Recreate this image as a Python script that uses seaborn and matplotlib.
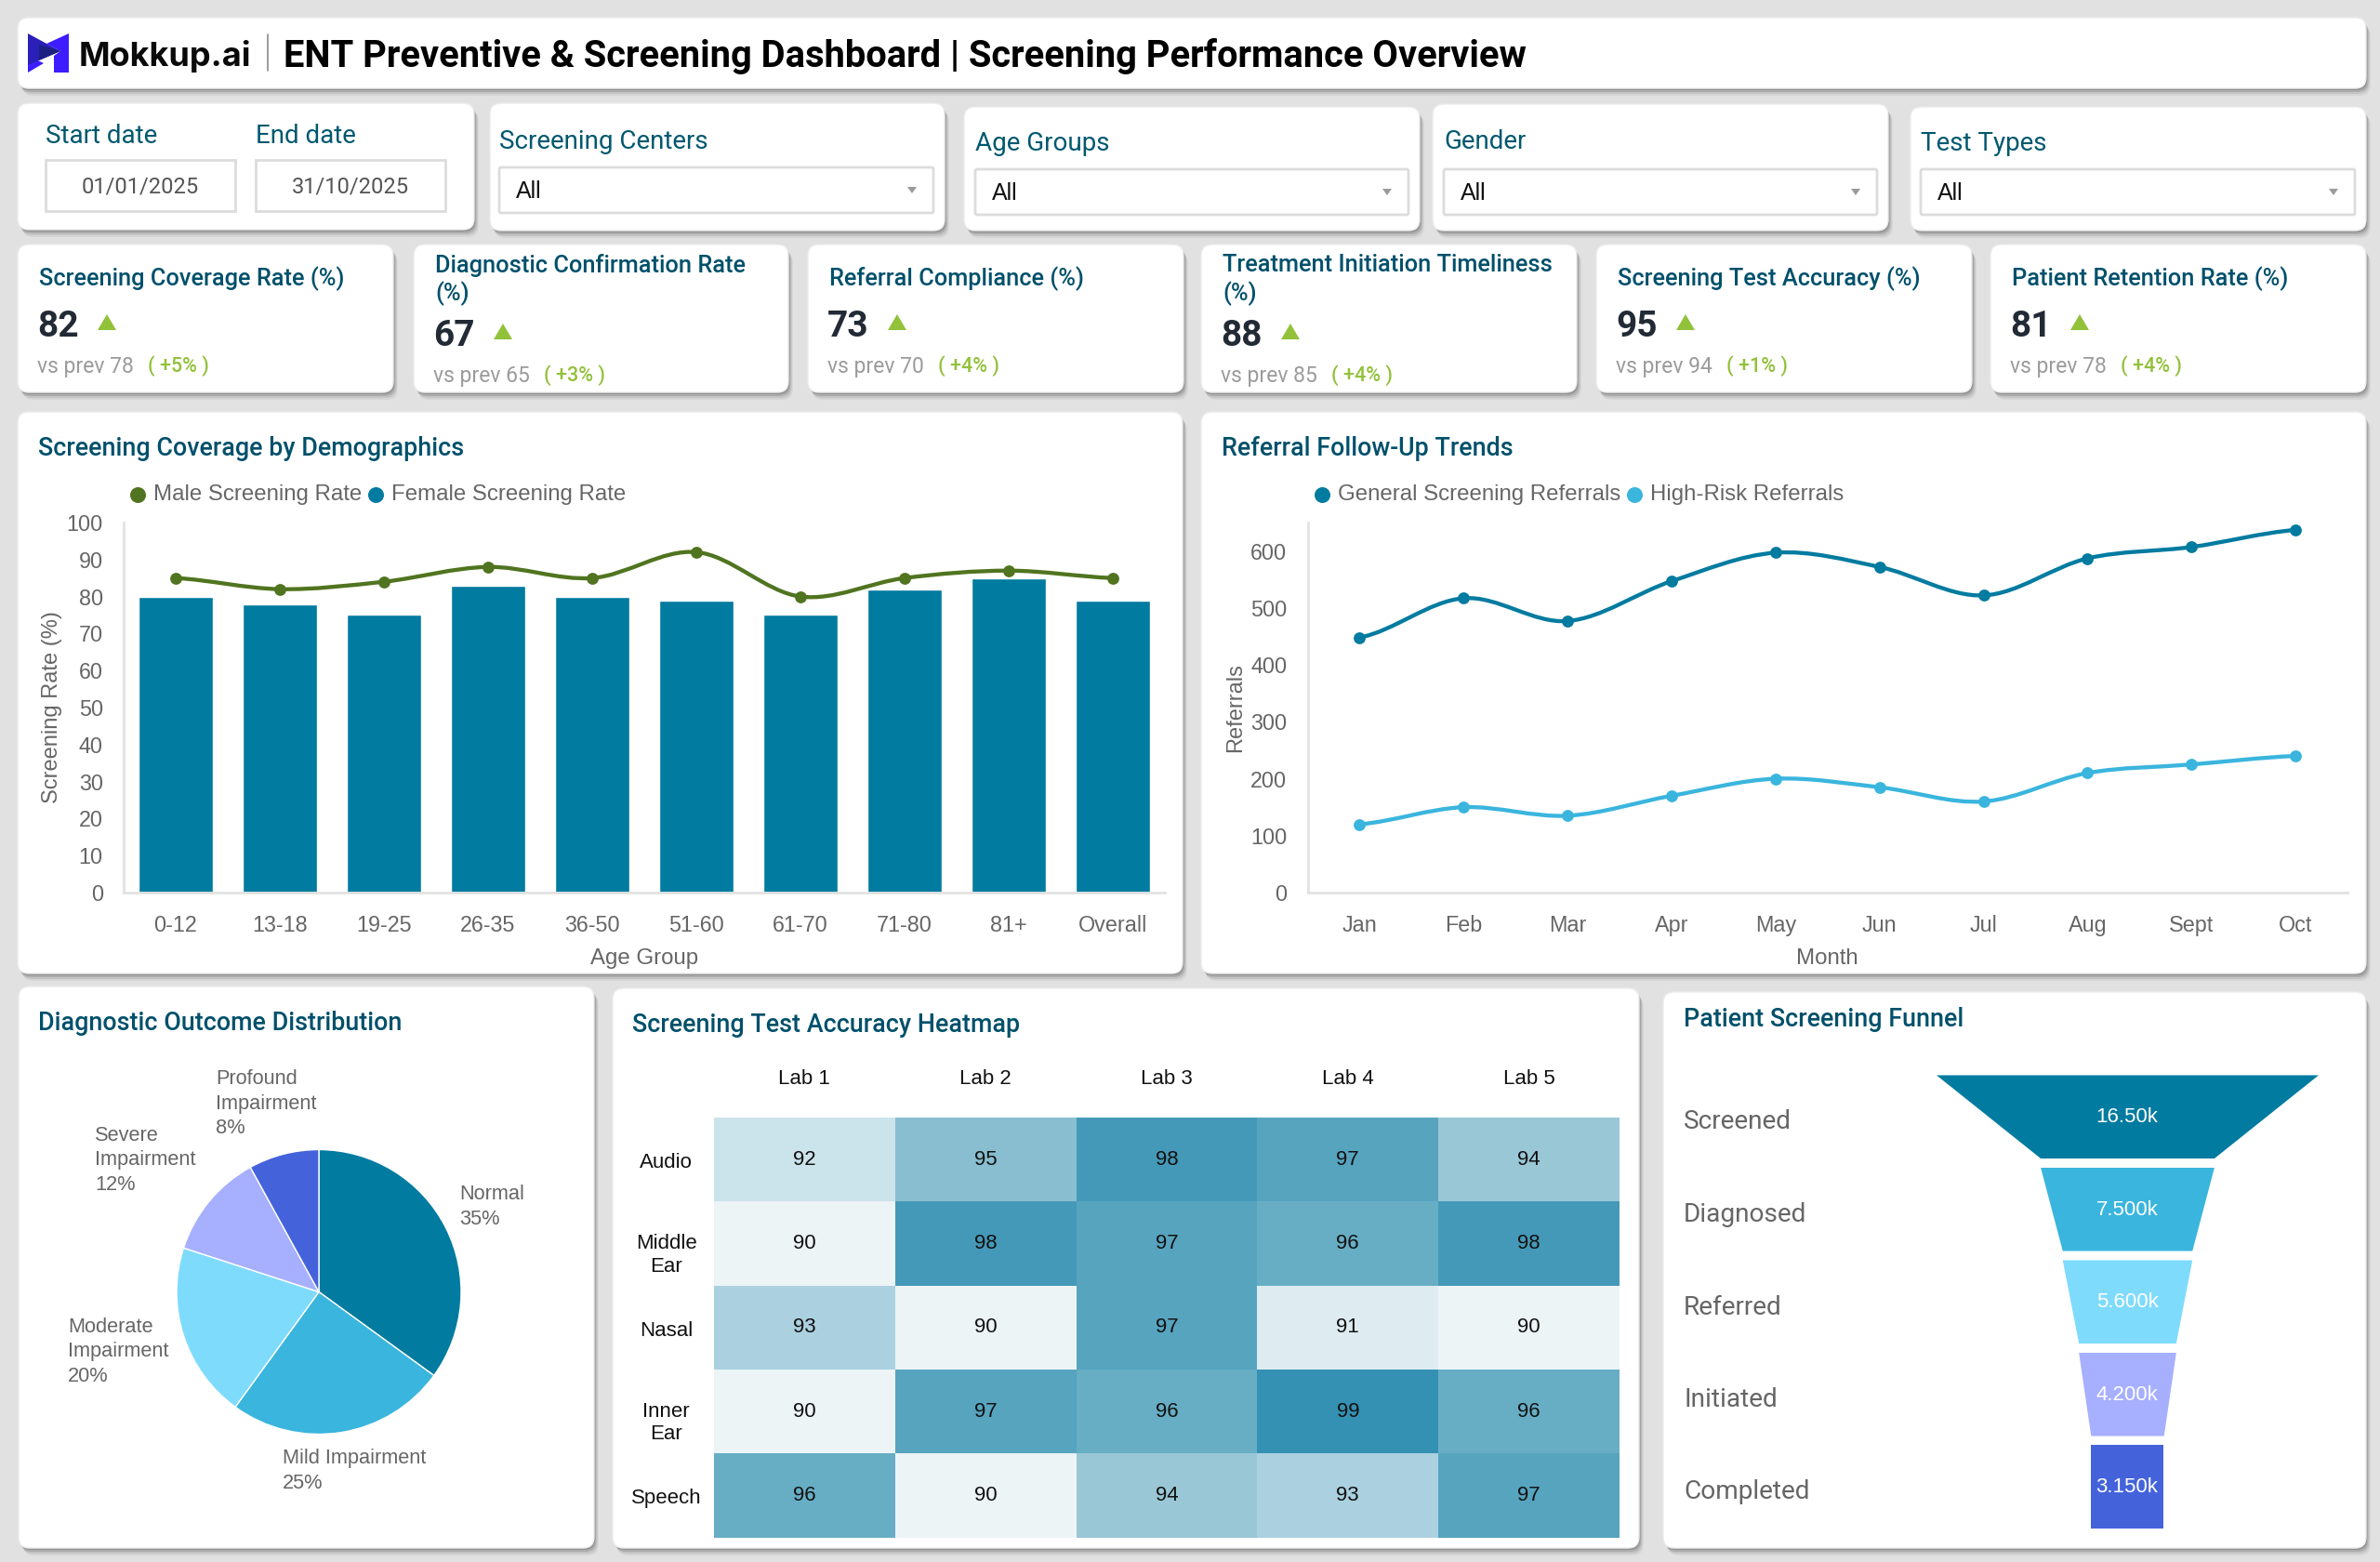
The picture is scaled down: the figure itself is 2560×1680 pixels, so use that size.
import numpy as np
import pandas as pd
import matplotlib
matplotlib.use("Agg")
import matplotlib.pyplot as plt
import seaborn as sns
from matplotlib.colors import LinearSegmentedColormap
from matplotlib.patches import FancyBboxPatch, PathPatch, Polygon, Rectangle
from matplotlib.path import Path
from matplotlib.transforms import ScaledTranslation

# data
age_groups = ["0-12", "13-18", "19-25", "26-35", "36-50", "51-60", "61-70", "71-80", "81+", "Overall"]
female_rate = [80, 78, 75, 83, 80, 79, 75, 82, 85, 79]
male_rate = [85, 82, 84, 88, 85, 92, 80, 85, 87, 85]

months = ["Jan", "Feb", "Mar", "Apr", "May", "Jun", "Jul", "Aug", "Sept", "Oct"]
general_referrals = [448, 517, 477, 547, 597, 572, 522, 587, 607, 637]
high_risk_referrals = [120, 150, 135, 170, 200, 185, 160, 210, 225, 240]

outcome_labels = ["Normal", "Mild Impairment", "Moderate\nImpairment", "Severe\nImpairment", "Profound\nImpairment"]
outcome_values = [35, 25, 20, 12, 8]

labs = ["Lab 1", "Lab 2", "Lab 3", "Lab 4", "Lab 5"]
tests = ["Audio", "Middle\nEar", "Nasal", "Inner\nEar", "Speech"]
accuracy = [[92, 95, 98, 97, 94],
            [90, 98, 97, 96, 98],
            [93, 90, 97, 91, 90],
            [90, 97, 96, 99, 96],
            [96, 90, 94, 93, 97]]

funnel_stages = ["Screened", "Diagnosed", "Referred", "Initiated", "Completed"]
funnel_values = [16500, 7500, 5600, 4200, 3150]
funnel_text = ["16.50k", "7.500k", "5.600k", "4.200k", "3.150k"]

kpi_titles = ["Screening Coverage Rate (%)", "Diagnostic Confirmation Rate\n(%)", "Referral Compliance (%)",
              "Treatment Initiation Timeliness\n(%)", "Screening Test Accuracy (%)", "Patient Retention Rate (%)"]
kpi_values = [82, 67, 73, 88, 95, 81]
kpi_prev = [78, 65, 70, 85, 94, 78]
kpi_change = ["+5%", "+3%", "+4%", "+4%", "+1%", "+4%"]

filter_titles = ["Screening Centers", "Age Groups", "Gender", "Test Types"]

# colours
BG = "#e1e1e1"
TEAL = "#027ba0"
SKY = "#3ab5de"
PALE = "#7fdbfc"
LILAC = "#a7afff"
INDIGO = "#4463db"
OLIVE = "#50741f"
TITLE = "#00506b"
GREY = "#666666"
AXIS = "#e2e2e2"
GREEN = "#92c13a"
BODY = "Liberation Sans"
HEAD = "Roboto"

sns.set_theme(style="white")
plt.rcParams["font.family"] = [BODY, "DejaVu Sans"]

fig = plt.figure(figsize=(25.6, 16.8), dpi=100, facecolor=BG)

# overlay in pixel coordinates for the cards and text
bg = fig.add_axes([0, 0, 1, 1], zorder=0)
bg.set_xlim(0, 2560)
bg.set_ylim(1680, 0)
bg.axis("off")


def card(x0, y0, x1, y1):
    for off, a in ((8, 0.05), (6, 0.08), (4, 0.12), (2, 0.16)):
        bg.add_patch(FancyBboxPatch((x0 + 12 + off * 0.6, y0 + 12 + off), x1 - x0 - 24, y1 - y0 - 24,
                                    boxstyle="round,pad=12", fc="black", ec="none", alpha=a))
    bg.add_patch(FancyBboxPatch((x0 + 12, y0 + 12), x1 - x0 - 24, y1 - y0 - 24,
                                boxstyle="round,pad=12", fc="white", ec="#ececec", lw=1))


def label(x, y, s, size, color=TITLE, weight="normal", family=HEAD, ha="left", **kw):
    return bg.text(x, y, s, fontsize=size, color=color, fontweight=weight, family=family,
                   ha=ha, va="center", **kw)


def panel_axes(x0, y0, x1, y1):
    a = fig.add_axes([x0 / 2560, 1 - y1 / 1680, (x1 - x0) / 2560, (y1 - y0) / 1680], zorder=1)
    a.patch.set_alpha(0)
    return a


def smooth_line(ax, ys, color):
    # curve through the points, handles from the neighbouring points
    n = len(ys)
    verts = [(0, ys[0])]
    codes = [Path.MOVETO]
    for i in range(n - 1):
        y_prev = ys[max(i - 1, 0)]
        y_next = ys[min(i + 2, n - 1)]
        verts += [(i + 1 / 3, ys[i] + (ys[i + 1] - y_prev) / 6),
                  (i + 2 / 3, ys[i + 1] - (y_next - ys[i]) / 6),
                  (i + 1, ys[i + 1])]
        codes += [Path.CURVE4] * 3
    ax.add_patch(PathPatch(Path(verts, codes), fc="none", ec=color, lw=3.1, zorder=3))


def style_axes(ax, xlabel, ylabel, ylabel_x, yticks):
    sns.despine(ax=ax)
    for side in ("left", "bottom"):
        ax.spines[side].set_color(AXIS)
        ax.spines[side].set_linewidth(2)
    ax.set_xlim(-0.5, 9.5)
    ax.set_yticks(yticks)
    ax.tick_params(axis="both", length=0, pad=16, labelsize=16.8, labelcolor=GREY)
    ax.tick_params(axis="x", pad=17.5)
    ax.set_xlabel(xlabel, fontsize=17.3, color=GREY)
    ax.set_ylabel(ylabel, fontsize=17, color=GREY)
    ax.xaxis.set_label_coords(ax.get_position().x0 * 2560 + ax.get_position().width * 1280, 1020,
                              transform=bg.transData)
    ax.yaxis.set_label_coords(ylabel_x, 761, transform=bg.transData)


def dots_legend(x_list, names, colors):
    for x, n, c in zip(x_list, names, colors):
        bg.scatter([x], [532], s=150, color=c, linewidths=0)
        label(x + 17, 532, n, 17.3, color=GREY, family=BODY)


# header
card(19, 19, 2545, 95)
bg.add_patch(Polygon([(74, 36), (74, 78), (58, 78), (58, 60), (65, 55), (50, 47)], fc="#3d1cff", ec="none"))
bg.add_patch(Polygon([(30, 60), (47, 68), (30, 78)], fc="#3d1cff", ec="none"))
bg.add_patch(Polygon([(30, 36), (65, 55), (30, 70)], fc="#2a1fb8", ec="none"))
bg.add_patch(Polygon([(42, 48), (65, 55), (42, 65)], fc="#1c2080", ec="none"))
label(85, 60, "Mokkup.ai", 26, color="#0a0a0a", weight="bold", family="Inter")
bg.plot([288, 288], [37, 76], color="#8a8a8a", lw=1.2)
label(305, 60, "ENT Preventive & Screening Dashboard | Screening Performance Overview", 28.7,
      color="black", weight="bold")

# filters
card(19, 111, 510, 247)
for x, name, day in zip((49, 275), ("Start date", "End date"), ("01/01/2025", "31/10/2025")):
    label(x, 146, name, 20, color="#00586f")
    bg.add_patch(Rectangle((x, 172), 204, 55, fc="white", ec="#dcdcdc", lw=2))
    label(x + 102, 201, day, 17, color="#555555", ha="center")

filter_cards = [(527, 111, 1016), (1037, 115, 1527), (1541, 112, 2031), (2055, 115, 2545)]
filter_boxes = [(537, 152, 180, 1004), (1049, 154, 182, 1515), (1553, 152, 182, 2019), (2066, 154, 182, 2533)]
for name, (x0, y0, x1), (bx, ty, by, bx1) in zip(filter_titles, filter_cards, filter_boxes):
    card(x0, y0, x1, 248)
    label(bx, ty, name, 20, color="#00586f")
    bg.add_patch(FancyBboxPatch((bx + 2, by + 2), bx1 - bx - 4, 45, boxstyle="round,pad=2",
                                fc="white", ec="#dcdcdc", lw=2))
    label(bx + 18, by + 26, "All", 18, color="#111111", family=BODY)
    bg.add_patch(Polygon([(bx1 - 28, by + 21), (bx1 - 18, by + 21), (bx1 - 23, by + 28)], fc="#9a9a9a", ec="none"))

# kpi cards
kpi_x = [(19, 423), (445, 848), (869, 1273), (1292, 1696), (1717, 2121), (2141, 2545)]
for (x0, x1), title, val, prev, chg in zip(kpi_x, kpi_titles, kpi_values, kpi_prev, kpi_change):
    card(x0, 263, x1, 422)
    two = "\n" in title
    tx = x0 + 23
    if two:
        lines = title.split("\n")
        label(tx, 285, lines[0], 18.3, weight="medium")
        label(tx, 316, lines[1], 18.3, weight="medium")
    else:
        label(tx, 300, title, 18.3, weight="medium")
    vy = 357 if two else 347
    sy = 404 if two else 394
    label(tx - 2, vy + 4, str(val), 28, color="#222a35", weight="bold")
    bg.add_patch(Polygon([(tx + 63, vy + 8), (tx + 83, vy + 8), (tx + 73, vy - 9)], fc=GREEN, ec="none"))
    label(tx - 2, sy, f"vs prev {prev}", 16.5, color="#9b9b9b")
    label(tx + 117, sy, f"( {chg} )", 15.5, color=GREEN, weight="medium")

# coverage chart
card(19, 443, 1272, 1047)
label(41, 482, "Screening Coverage by Demographics", 19.4, weight="medium")
dots_legend((148, 404), ("Male Screening Rate", "Female Screening Rate"), (OLIVE, TEAL))
ax = panel_axes(133, 562, 1253, 960)
coverage = pd.DataFrame({"age": age_groups, "female": female_rate, "male": male_rate})
sns.barplot(data=coverage, x="age", y="female", color=TEAL, saturation=1, width=0.72, ax=ax)
sns.scatterplot(data=coverage, x="age", y="male", color=OLIVE, s=85, linewidth=0, zorder=4, ax=ax)
smooth_line(ax, male_rate, OLIVE)
ax.set_ylim(0, 100)
style_axes(ax, "Age Group", "Screening Rate (%)", 67, np.arange(0, 101, 10))

# referral chart
card(1292, 443, 2545, 1047)
label(1314, 482, "Referral Follow-Up Trends", 19.4, weight="medium")
dots_legend((1422, 1758), ("General Screening Referrals", "High-Risk Referrals"), (TEAL, SKY))
ax = panel_axes(1406.5, 562, 2525, 960)
referrals = pd.DataFrame({"month": months, "general": general_referrals, "high": high_risk_referrals})
for col, c in (("general", TEAL), ("high", SKY)):
    sns.scatterplot(data=referrals, x="month", y=col, color=c, s=85, linewidth=0, zorder=4, ax=ax)
    smooth_line(ax, referrals[col].tolist(), c)
ax.set_ylim(0, 650)
style_axes(ax, "Month", "Referrals", 1340, np.arange(0, 601, 100))

# outcome pie
card(20, 1061, 639, 1665)
label(41, 1100, "Diagnostic Outcome Distribution", 19.4, weight="medium")
ax = panel_axes(20, 1061, 639, 1665)
ax.pie(outcome_values, colors=[TEAL, SKY, PALE, LILAC, INDIGO], startangle=90, counterclock=False, radius=1)
ax.set_xlim((20 - 343) / 153, (639 - 343) / 153)
ax.set_ylim((1389.5 - 1665) / 153, (1389.5 - 1061) / 153)
pie_label_pos = [(494, 1298), (304, 1582), (73, 1454), (102, 1248), (232, 1187)]
for (x, y), name, v in zip(pie_label_pos, outcome_labels, outcome_values):
    label(x, y, f"{name}\n{v}%", 15.7, color=GREY, family=BODY, linespacing=1.33)

# accuracy heatmap
card(659, 1063, 1763, 1665)
label(680, 1102, "Screening Test Accuracy Heatmap", 19.4, weight="medium")
ax = panel_axes(768, 1202, 1742, 1653.5)
heat_cmap = LinearSegmentedColormap.from_list(
    "acc", ["#edf4f6", "#deecf1", "#cbe3eb", "#abd1e0", "#9ac7d6", "#89bed0", "#67aec5", "#57a4bf", "#4599b8", "#3491b3"],
    N=10)
sns.heatmap(pd.DataFrame(accuracy, index=tests, columns=labs), annot=True, fmt="d", cmap=heat_cmap, vmin=90, vmax=99,
            cbar=False, annot_kws={"fontsize": 16, "color": "#111111"}, ax=ax)
ax.xaxis.tick_top()
ax.tick_params(axis="x", length=0, pad=22, labelsize=16, labelcolor="#111111", rotation=0)
ax.tick_params(axis="y", length=0, pad=37, labelsize=16, labelcolor="#111111", rotation=0)
for t in ax.get_yticklabels():
    t.set_ha("center")
    t.set_linespacing(1.2)
    # the two line labels sit lower in the cell than the one line labels
    drop = 9 if "\n" in t.get_text() else 2.5
    t.set_transform(t.get_transform() + ScaledTranslation(0, -drop / 72, fig.dpi_scale_trans))

# funnel
card(1789, 1067, 2545, 1665)
label(1811, 1096, "Patient Screening Funnel", 19.4, weight="medium")
ax = panel_axes(2082.5, 1151, 2493.5, 1648.5)
widths = np.array(funnel_values, dtype=float)
lower = np.append(widths[1:], widths[-1])
for i, c in enumerate([TEAL, SKY, PALE, LILAC, INDIGO]):
    ax.fill_betweenx([i - 0.45, i + 0.45], [-widths[i] / 2, -lower[i] / 2], [widths[i] / 2, lower[i] / 2],
                     color=c, linewidth=0)
    ax.text(0, i + 0.01, funnel_text[i], color="white", fontsize=16, ha="center", va="center")
ax.set_xlim(-funnel_values[0] / 2, funnel_values[0] / 2)
ax.set_ylim(4.5, -0.5)
ax.axis("off")
for i, name in enumerate(funnel_stages):
    label(1811, 1207 + 99.5 * i, name, 20.2, color=GREY)

fig.savefig("out.png", dpi=100, facecolor=BG)
